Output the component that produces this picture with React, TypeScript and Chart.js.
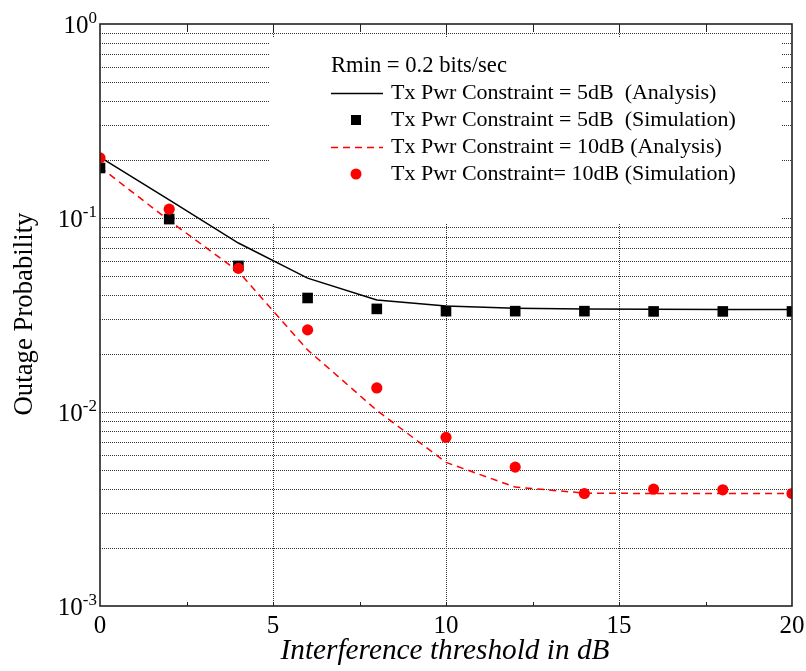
import React, { useEffect, useRef } from "react";
import { Chart, registerables } from "chart.js";

Chart.register(...registerables);

const X_VALUES = [0, 2, 4, 6, 8, 10, 12, 14, 16, 18, 20];
const ANALYSIS_5DB = [0.206, 0.124, 0.0743, 0.049, 0.0378, 0.0352, 0.0343, 0.034, 0.0339, 0.0338, 0.0338];
const SIM_5DB = [0.181, 0.0987, 0.0566, 0.0387, 0.034, 0.0331, 0.0331, 0.0331, 0.033, 0.033, 0.033];
const ANALYSIS_10DB = [0.183, 0.097, 0.053, 0.0209, 0.0102, 0.0055, 0.0041, 0.00382, 0.0038, 0.0038, 0.0038];
const SIM_10DB = [0.204, 0.111, 0.055, 0.0265, 0.0133, 0.0074, 0.0052, 0.0038, 0.004, 0.00397, 0.0038];

const X_TICKS = [0, 5, 10, 15, 20];
const X_GRID = [5, 10, 15];
const X_MINOR = [2.5, 5, 7.5, 10, 12.5, 15, 17.5];
const Y_DECADES = [1e-3, 1e-2, 1e-1, 1];
const Y_EXPONENTS = ["-3", "-2", "-1", "0"];
const Y_MULTS = [1, 2, 3, 4, 5, 6, 7, 8, 9];

const LEGEND_TITLE = "Rmin = 0.2 bits/sec";
const LEGEND_LABELS = [
  "Tx Pwr Constraint = 5dB  (Analysis)",
  "Tx Pwr Constraint = 5dB  (Simulation)",
  "Tx Pwr Constraint = 10dB (Analysis)",
  "Tx Pwr Constraint= 10dB (Simulation)",
];
const X_TITLE = "Interference threshold in dB";
const Y_TITLE = "Outage Probability";

const SERIF = '"Liberation Serif", "DejaVu Serif", serif';

function fitSize(ctx: CanvasRenderingContext2D, text: string, style: string, target: number) {
  ctx.font = `${style} 20px ${SERIF}`;
  const w = ctx.measureText(text).width;
  return (20 * target) / w;
}

const decorPlugin = {
  id: "decor",
  beforeDatasetsDraw(chart: any) {
    const { ctx, chartArea } = chart;
    const { left, right, top, bottom } = chartArea;
    const xs = chart.scales.x;
    const ys = chart.scales.y;
    ctx.save();
    ctx.strokeStyle = "#333";
    ctx.lineWidth = 1;
    ctx.setLineDash([1, 1]);
    for (let d = 0; d < Y_DECADES.length - 1; d++) {
      for (const m of Y_MULTS) {
        const v = Y_DECADES[d] * m;
        if (v <= 1e-3 || v >= 1) continue;
        const py = Math.round(ys.getPixelForValue(v)) + 0.5;
        ctx.beginPath();
        ctx.moveTo(left, py);
        ctx.lineTo(right, py);
        ctx.stroke();
      }
    }
    for (const v of X_GRID) {
      const px = Math.round(xs.getPixelForValue(v)) + 0.5;
      ctx.beginPath();
      ctx.moveTo(px, top);
      ctx.lineTo(px, bottom);
      ctx.stroke();
    }
    ctx.setLineDash([]);
    ctx.fillStyle = "#ffffff";
    ctx.fillRect(269, 37, 782 - 269, 224 - 37);
    ctx.restore();
  },
  afterDraw(chart: any) {
    const { ctx, chartArea } = chart;
    const { left, right, top, bottom } = chartArea;
    const xs = chart.scales.x;
    const ys = chart.scales.y;
    ctx.save();
    ctx.strokeStyle = "#222";
    ctx.lineWidth = 1;
    for (const v of X_MINOR) {
      const px = Math.round(xs.getPixelForValue(v)) + 0.5;
      ctx.beginPath();
      ctx.moveTo(px, top);
      ctx.lineTo(px, top + 8);
      ctx.moveTo(px, bottom);
      ctx.lineTo(px, bottom - 4);
      ctx.stroke();
    }
    ctx.strokeStyle = "#222";
    ctx.lineWidth = 1.6;
    ctx.strokeRect(left, top, right - left, bottom - top);

    ctx.fillStyle = "#000";
    Y_DECADES.forEach((v, i) => {
      const py = ys.getPixelForValue(v);
      const sup = Y_EXPONENTS[i];
      ctx.font = `17px ${SERIF}`;
      const sw = ctx.measureText(sup).width;
      ctx.textAlign = "left";
      ctx.textBaseline = "alphabetic";
      ctx.fillText(sup, 97 - sw, py - 1);
      ctx.font = `25px ${SERIF}`;
      ctx.textAlign = "right";
      ctx.fillText("10", 97 - sw, py + 9);
    });
    ctx.font = `25px ${SERIF}`;
    ctx.textAlign = "center";
    ctx.textBaseline = "alphabetic";
    for (const v of X_TICKS) {
      ctx.fillText(String(v), xs.getPixelForValue(v), 633);
    }
    const xtSize = fitSize(ctx, X_TITLE, "italic", 329);
    ctx.font = `italic ${xtSize}px ${SERIF}`;
    ctx.textAlign = "center";
    ctx.fillText(X_TITLE, 445, 659);
    const ytSize = fitSize(ctx, Y_TITLE, "", 203);
    ctx.save();
    ctx.translate(32, 314);
    ctx.rotate(-Math.PI / 2);
    ctx.font = `${ytSize}px ${SERIF}`;
    ctx.textAlign = "center";
    ctx.fillText(Y_TITLE, 0, 0);
    ctx.restore();

    const lgSize = fitSize(ctx, LEGEND_LABELS[1], "", 345);
    const tSize = fitSize(ctx, LEGEND_TITLE, "", 176);
    ctx.textAlign = "left";
    ctx.font = `${tSize}px ${SERIF}`;
    ctx.fillText(LEGEND_TITLE, 331, 72);
    ctx.font = `${lgSize}px ${SERIF}`;
    const rows = [93, 120, 147, 174];
    LEGEND_LABELS.forEach((t, i) => {
      ctx.fillText(t, 391, rows[i] + 6);
    });
    ctx.lineWidth = 1.5;
    ctx.strokeStyle = "#000";
    ctx.beginPath();
    ctx.moveTo(331, rows[0] + 0.5);
    ctx.lineTo(383, rows[0] + 0.5);
    ctx.stroke();
    ctx.fillStyle = "#000";
    ctx.fillRect(356 - 5, rows[1] - 5, 10, 10);
    ctx.strokeStyle = "#ff0000";
    ctx.setLineDash([7, 5]);
    ctx.beginPath();
    ctx.moveTo(331, rows[2] + 0.5);
    ctx.lineTo(383, rows[2] + 0.5);
    ctx.stroke();
    ctx.setLineDash([]);
    ctx.fillStyle = "#ff0000";
    ctx.beginPath();
    ctx.arc(356, rows[3], 5.5, 0, Math.PI * 2);
    ctx.fill();
    ctx.restore();
  },
};

export default function App() {
  const ref = useRef<HTMLCanvasElement | null>(null);
  useEffect(() => {
    if (!ref.current) return;
    const toPts = (arr: number[]) => X_VALUES.map((x, i) => ({ x, y: arr[i] }));
    const chart = new Chart(ref.current, {
      type: "line",
      data: {
        datasets: [
          {
            label: LEGEND_LABELS[3],
            data: toPts(SIM_10DB),
            showLine: false,
            pointStyle: "circle",
            pointRadius: 5.6,
            pointBackgroundColor: "#ff0000",
            pointBorderColor: "#ff0000",
            pointBorderWidth: 0,
            clip: 0,
          },
          {
            label: LEGEND_LABELS[1],
            data: toPts(SIM_5DB),
            showLine: false,
            pointStyle: "rect",
            pointRadius: 7.5,
            pointBackgroundColor: "#000",
            pointBorderColor: "#000",
            pointBorderWidth: 0,
            clip: 0,
          },
          {
            label: LEGEND_LABELS[2],
            data: toPts(ANALYSIS_10DB),
            borderColor: "#ff0000",
            borderWidth: 1.5,
            borderDash: [7, 5],
            pointRadius: 0,
            tension: 0,
            fill: false,
            clip: 0,
          },
          {
            label: LEGEND_LABELS[0],
            data: toPts(ANALYSIS_5DB),
            borderColor: "#000",
            borderWidth: 1.5,
            pointRadius: 0,
            tension: 0,
            fill: false,
            clip: 0,
          },
        ],
      },
      options: {
        animation: false,
        responsive: false,
        maintainAspectRatio: false,
        events: [],
        layout: { padding: { left: 100, right: 14, top: 24, bottom: 65 } },
        plugins: { legend: { display: false }, tooltip: { enabled: false } },
        scales: {
          x: { type: "linear", min: 0, max: 20, display: false },
          y: { type: "logarithmic", min: 1e-3, max: 1, display: false },
        },
      },
      plugins: [decorPlugin],
    } as any);
    return () => chart.destroy();
  }, []);
  return (
    <div style={{ position: "fixed", left: 0, top: 0, width: 806, height: 671, background: "#fff" }}>
      <canvas ref={ref} width={806} height={671} style={{ display: "block", width: 806, height: 671 }} />
    </div>
  );
}
